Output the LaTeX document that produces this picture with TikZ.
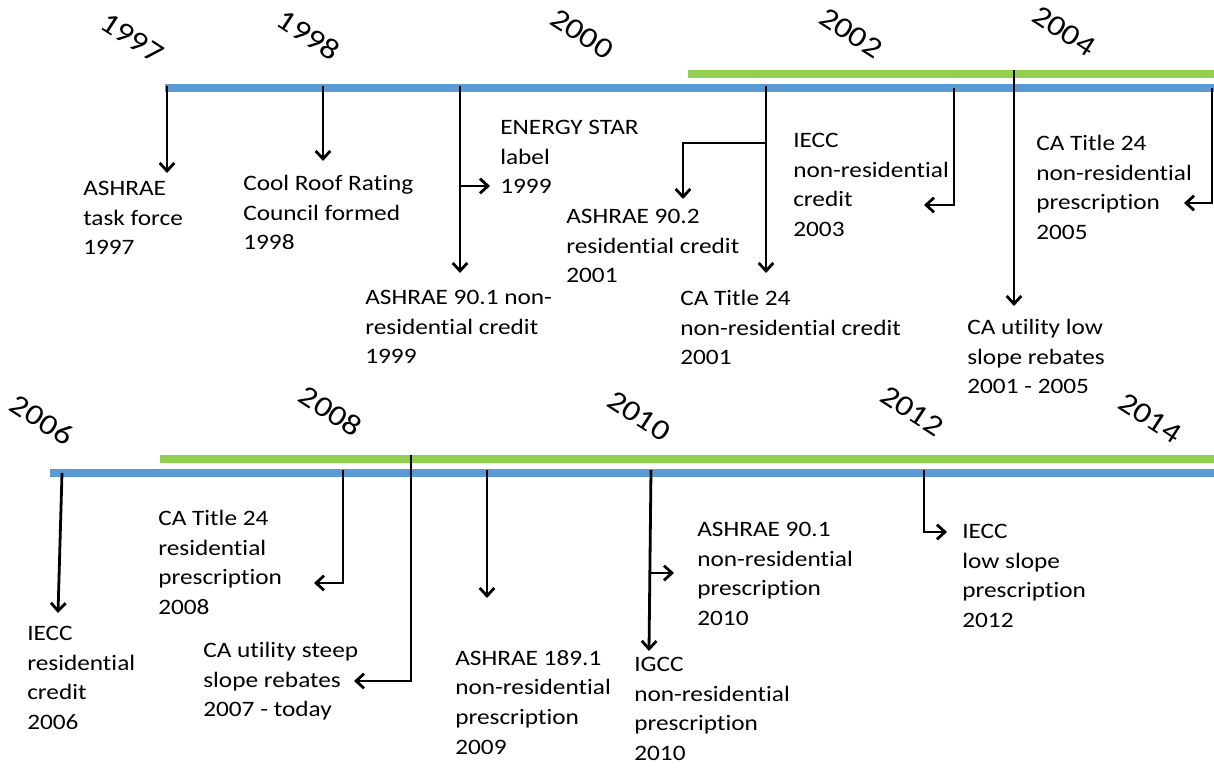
\documentclass[tikz,border=0pt]{standalone}
\usepackage{fontspec}
\setmainfont{Carlito}[FakeStretch=1.15, Ligatures=NoCommon]
\usetikzlibrary{arrows.meta}
\definecolor{tlblue}{RGB}{91,155,213}
\definecolor{tlgreen}{RGB}{146,208,80}
\tikzset{
 evt/.style={anchor=north west, inner sep=0pt, align=left, font=\fontsize{16.5}{22.2}\selectfont},
 yr/.style={rotate=-33, font=\fontsize{22}{26}\selectfont, inner sep=0pt},
 conn/.style={line width=2.1pt, black},
 arr/.style={conn, -{Straight Barb[length=6pt,width=11pt]}},
 blueline/.style={line width=6pt, tlblue},
 greenline/.style={line width=6pt, tlgreen}
}
\begin{document}
\begin{tikzpicture}[x=0.75pt,y=-0.75pt]
\useasboundingbox (0,0) rectangle (1214,771);
% timelines
\coordinate (tbL) at (165,88); \coordinate (tbR) at (1214,88);
\coordinate (tgL) at (688,74); \coordinate (tgR) at (1214,74);
\coordinate (bbL) at (50,473); \coordinate (bbR) at (1214,473);
\coordinate (bgL) at (160,459); \coordinate (bgR) at (1214,459);
\draw[greenline] (tgL) -- (tgR);
\draw[blueline] (tbL) -- (tbR);
\draw[greenline] (bgL) -- (bgR);
\draw[blueline] (bbL) -- (bbR);
% years
\node[yr] (y1997) at (132,38) {1997};
\node[yr] (y1998) at (309,35) {1998};
\node[yr] (y2000) at (582,34) {2000};
\node[yr] (y2002) at (851,33) {2002};
\node[yr] (y2004) at (1064,31) {2004};
\node[yr] (y2006) at (42,420) {2006};
\node[yr] (y2008) at (331,411) {2008};
\node[yr] (y2010) at (639,416) {2010};
\node[yr] (y2012) at (912,411) {2012};
\node[yr] (y2014) at (1150,418) {2014};
% events top
\node[evt] (e1) at (83,181) {ASHRAE\\task force\\1997};
\node[evt] (e2) at (243,175) {Cool Roof Rating\\Council formed\\1998};
\node[evt] (e3) at (500,120) {ENERGY STAR\\label\\1999};
\node[evt] (e4) at (365,290) {ASHRAE 90.1 non-\\residential credit\\1999};
\node[evt] (e5) at (566,209) {ASHRAE 90.2\\residential credit\\2001};
\node[evt] (e6) at (680,290) {CA Title 24\\non-residential credit\\2001};
\node[evt] (e7) at (793,133) {IECC\\non-residential\\credit\\2003};
\node[evt] (e8) at (967,319) {CA utility low\\slope rebates\\2001 - 2005};
\node[evt] (e9) at (1036,135) {CA Title 24\\non-residential\\prescription\\2005};
% events bottom
\node[evt] (e10) at (27,626) {IECC\\residential\\credit\\2006};
\node[evt] (e11) at (158,510) {CA Title 24\\residential\\prescription\\2008};
\node[evt] (e12) at (203,642) {CA utility steep\\slope rebates\\2007 - today};
\node[evt] (e13) at (455,650) {ASHRAE 189.1\\non-residential\\prescription\\2009};
\node[evt] (e14) at (697,522) {ASHRAE 90.1\\non-residential\\prescription\\2010};
\node[evt] (e15) at (634,657) {IGCC\\non-residential\\prescription\\2010};
\node[evt] (e16) at (962,524) {IECC\\low slope\\prescription\\2012};
% connector points top
\coordinate (a1s) at (167,86); \coordinate (a1e) at (167,173);
\coordinate (a2s) at (323,86); \coordinate (a2e) at (323,161);
\coordinate (a3s) at (460,86); \coordinate (a3e) at (460,273);
\coordinate (a3b) at (460,186); \coordinate (a3f) at (490,186);
\coordinate (a4s) at (766,86); \coordinate (a4e) at (766,273);
\coordinate (a4b) at (766,143); \coordinate (a4k) at (683,143); \coordinate (a4f) at (683,199);
\coordinate (a5s) at (954,88); \coordinate (a5k) at (954,205); \coordinate (a5e) at (924,205);
\coordinate (a6s) at (1014,70); \coordinate (a6e) at (1014,306);
\coordinate (a7s) at (1212,88); \coordinate (a7k) at (1212,203); \coordinate (a7e) at (1184,203);
\draw[arr] (a1s) -- (a1e);
\draw[arr] (a2s) -- (a2e);
\draw[arr] (a3s) -- (a3e);
\draw[arr] (a3b) -- (a3f);
\draw[arr] (a4s) -- (a4e);
\draw[arr] (a4b) -- (a4k) -- (a4f);
\draw[arr] (a5s) -- (a5k) -- (a5e);
\draw[arr] (a6s) -- (a6e);
\draw[arr] (a7s) -- (a7k) -- (a7e);
% connector points bottom
\coordinate (b1s) at (62,473); \coordinate (b1e) at (58,613);
\coordinate (b2s) at (343,470); \coordinate (b2k) at (343,583); \coordinate (b2e) at (314,583);
\coordinate (b3s) at (411,455); \coordinate (b3k) at (411,681); \coordinate (b3e) at (354,681);
\coordinate (b4s) at (487,470); \coordinate (b4e) at (487,598);
\coordinate (b5s) at (651,470); \coordinate (b5e) at (649,651);
\coordinate (b5b) at (651,573); \coordinate (b5f) at (674,573);
\coordinate (b6s) at (924,470); \coordinate (b6k) at (924,532); \coordinate (b6e) at (947,532);
\draw[arr] (b1s) -- (b1e);
\draw[arr] (b2s) -- (b2k) -- (b2e);
\draw[arr] (b3s) -- (b3k) -- (b3e);
\draw[arr] (b4s) -- (b4e);
\draw[arr] (b5s) -- (b5e);
\draw[arr] (b5b) -- (b5f);
\draw[arr] (b6s) -- (b6k) -- (b6e);
\end{tikzpicture}
\end{document}
